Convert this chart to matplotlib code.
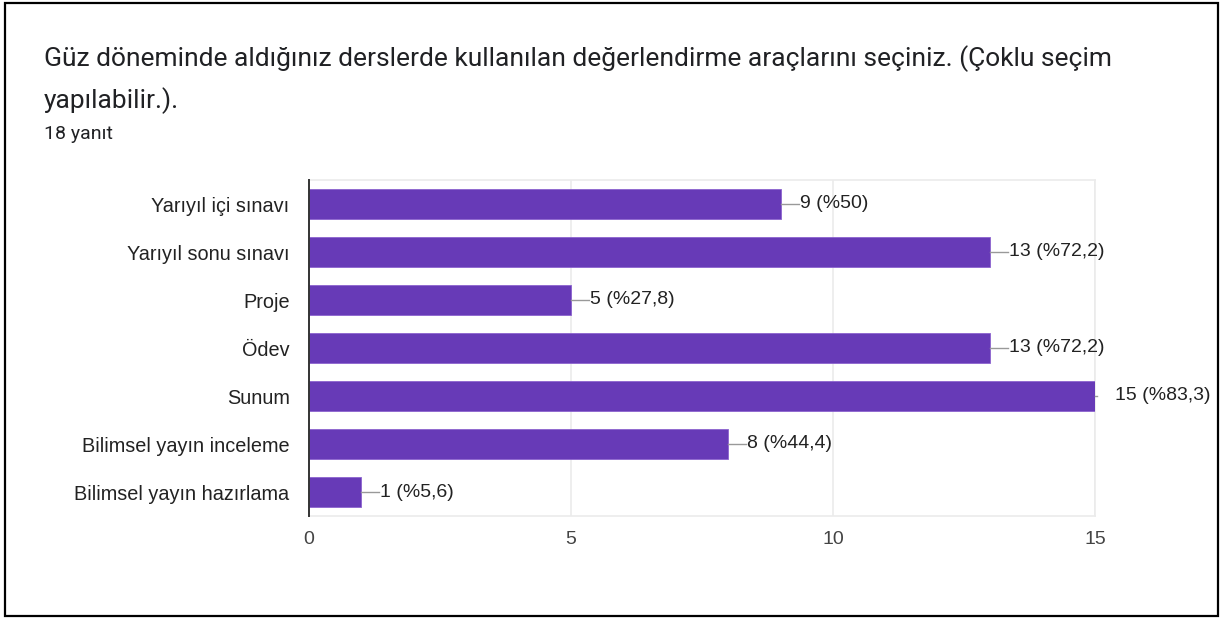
import matplotlib.pyplot as plt
from matplotlib.patches import Rectangle
from matplotlib.lines import Line2D

plt.rcParams['font.family'] = ['Roboto', 'DejaVu Sans']

# DATA ------------------------------------------------------------------------
title_line1 = 'Güz döneminde aldığınız derslerde kullanılan değerlendirme araçlarını seçiniz. (Çoklu seçim'
title_line2 = 'yapılabilir.).'
subtitle = '18 yanıt'
categories = ['Yarıyıl içi sınavı', 'Yarıyıl sonu sınavı', 'Proje', 'Ödev',
              'Sunum', 'Bilimsel yayın inceleme', 'Bilimsel yayın hazırlama']
counts = [9, 13, 5, 13, 15, 8, 1]
percents = ['%50', '%72,2', '%27,8', '%72,2', '%83,3', '%44,4', '%5,6']
xticks = [0, 5, 10, 15]
# -----------------------------------------------------------------------------

W, H = 1224, 619
chart_font = ['Liberation Sans', 'DejaVu Sans']
fig = plt.figure(figsize=(W / 100, H / 100), dpi=100)
fig.patch.set_facecolor('white')

# outer frame
fig.patches.append(Rectangle((5 / W, 3 / H), 1213 / W, 613 / H, transform=fig.transFigure,
                             fill=False, edgecolor='black', linewidth=1.6))

fig.text(44 / W, 1 - 66 / H, title_line1, fontsize=19, color='#202124', va='baseline')
fig.text(44 / W, 1 - 108 / H, title_line2, fontsize=19, color='#202124', va='baseline')
fig.text(44 / W, 1 - 139 / H, subtitle, fontsize=14, color='#202124', va='baseline')

ax = fig.add_axes([309 / W, 1 - 516 / H, 786 / W, 336 / H])
y = list(range(len(categories)))
ax.barh(y, counts, height=0.63, color='#673ab7', edgecolor='#8c63cf', linewidth=0.6, zorder=3)
ax.set_ylim(len(categories) - 0.5, -0.5)
ax.set_xlim(0, 15)
ax.set_xticks(xticks)
ax.set_yticks(y)
ax.set_yticklabels(categories, fontsize=14.3, color='#222222', family=chart_font)
for t in ax.get_xticklabels():
    t.set_family(chart_font)
ax.tick_params(axis='x', labelsize=14, labelcolor='#444444', length=0, pad=11)
ax.tick_params(axis='y', length=0, pad=14)
ax.grid(axis='x', color='#ebebeb', linewidth=1.2, zorder=0)
for s in ['top', 'right', 'bottom']:
    ax.spines[s].set_color('#ebebeb')
    ax.spines[s].set_linewidth(1.2)
ax.spines['left'].set_color('#333333')
ax.spines['left'].set_linewidth(1.4)
ax.spines['left'].set_zorder(4)

px = 15 / 786.0  # data units per pixel
for yi, c, p in zip(y, counts, percents):
    label = '%d (%s)' % (c, p)
    if c == max(counts):
        ax.add_line(Line2D([c, c + 2 * px], [yi, yi], color='#999999', linewidth=1,
                           clip_on=False, zorder=4))
        ax.text(c + 20 * px, yi, label, fontsize=14, color='#222222', va='center',
                ha='left', clip_on=False, family=chart_font)
    else:
        ax.add_line(Line2D([c, c + 18 * px], [yi, yi], color='#999999', linewidth=1,
                           clip_on=False, zorder=4))
        ax.text(c + 19 * px, yi, label, fontsize=14, color='#222222', va='center',
                ha='left', clip_on=False, family=chart_font)

fig.savefig('out.png', dpi=100)
